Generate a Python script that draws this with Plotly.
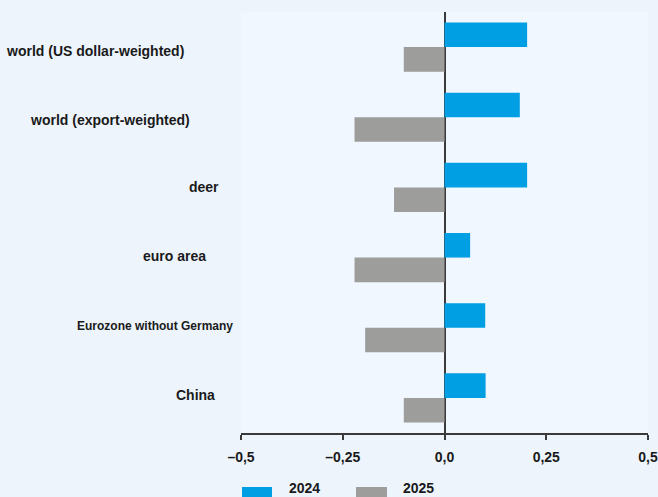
import plotly.graph_objects as go

# ---- data ----
categories = [
    "world (US dollar-weighted)",
    "world (export-weighted)",
    "deer",
    "euro area",
    "Eurozone without Germany",
    "China",
]
series_names = ["2024", "2025"]
values_2024 = [0.203, 0.185, 0.203, 0.063, 0.10, 0.101]
values_2025 = [-0.10, -0.221, -0.124, -0.221, -0.195, -0.10]
tick_vals = [-0.5, -0.25, 0.0, 0.25, 0.5]
tick_text = ["\u20130,5", "\u20130,25", "0,0", "0,25", "0,5"]

# ---- styling / layout ----
W, H = 658, 497
L, R, T, B = 241, 10, 12, 64
PW, PH = W - L - R, H - T - B
BLUE = "#009FE3"
GREY = "#9D9D9C"
TXT = "#1a1a1a"
FONT = "Liberation Sans, Arial, sans-serif"

# label placement (right edge in px, vertical shift (up +), font size)
label_right_px = [186, 192, 221, 208, 235, 217]
label_yshift = [-4, -3, 0, 2, 2, 3]
label_size = [14, 14, 14, 14, 12, 14]


def px_x(p):
    return (p - L) / PW


def px_y(p):
    return (H - B - p) / PH


fig = go.Figure()
fig.add_trace(go.Bar(y=categories, x=values_2024, name=series_names[0],
                     orientation="h", marker=dict(color=BLUE, line=dict(width=0))))
fig.add_trace(go.Bar(y=categories, x=values_2025, name=series_names[1],
                     orientation="h", marker=dict(color=GREY, line=dict(width=0))))

annotations = []
for cat, rp, ys, fs in zip(categories, label_right_px, label_yshift, label_size):
    annotations.append(dict(
        x=0, xref="paper", y=cat, yref="y", xanchor="right", yanchor="middle",
        xshift=rp - L, yshift=ys, text=cat, showarrow=False,
        font=dict(family=FONT, size=fs, color=TXT, weight="bold"),
    ))

# custom legend
legend_items = [
    (series_names[0], BLUE, 242, 272, 288),
    (series_names[1], GREY, 356, 387, 402),
]
shapes = []
for name, col, x0, x1, tx in legend_items:
    shapes.append(dict(type="rect", xref="paper", yref="paper",
                       x0=px_x(x0), x1=px_x(x1), y0=px_y(487), y1=px_y(500),
                       fillcolor=col, line=dict(width=0)))
    annotations.append(dict(
        x=px_x(tx), xref="paper", y=px_y(497), yref="paper",
        xanchor="left", yanchor="bottom", text=name, showarrow=False,
        font=dict(family=FONT, size=14, color=TXT, weight="bold"),
        borderpad=0,
    ))

fig.update_layout(
    width=W, height=H,
    margin=dict(l=L, r=R, t=T, b=B, autoexpand=False),
    paper_bgcolor="#EDF4FC",
    plot_bgcolor="#F1F7FE",
    barmode="group",
    bargap=0.3,
    bargroupgap=0,
    showlegend=False,
    annotations=annotations,
    shapes=shapes,
    font=dict(family=FONT, color=TXT),
)
fig.update_xaxes(
    range=[-0.5, 0.5],
    automargin=False,
    tickvals=tick_vals, ticktext=tick_text,
    showgrid=False,
    zeroline=True, zerolinecolor="#3a3a3a", zerolinewidth=2,
    showline=True, linecolor="#3a3a3a", linewidth=2,
    ticks="outside", ticklen=5, tickwidth=2, tickcolor="#3a3a3a",
    ticklabelstandoff=5,
    tickfont=dict(family=FONT, size=14, color=TXT, weight="bold"),
)
fig.update_yaxes(
    autorange="reversed",
    automargin=False,
    showticklabels=False,
    showgrid=False, zeroline=False, showline=False, ticks="",
)

fig.write_html("out.html")
